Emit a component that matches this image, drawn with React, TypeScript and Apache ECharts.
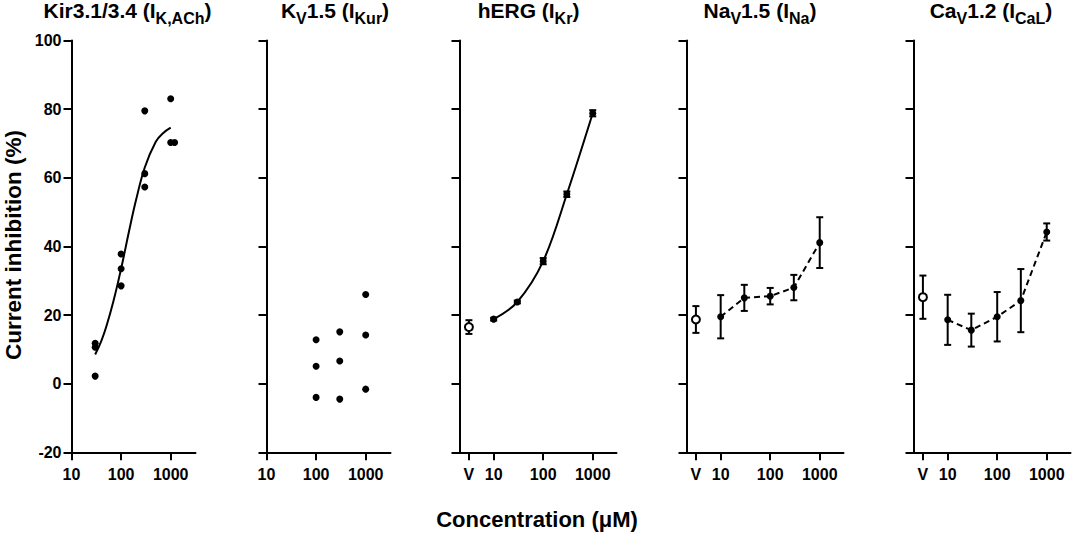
import React, { useEffect, useRef } from "react";
import * as echarts from "echarts";

const FONT = '"Liberation Sans", Arial, Helvetica, sans-serif';

// ---- data (concentrations in µM, values in % inhibition) ----
// Kir3.1/3.4 individual points
const KIR_CONC = [30, 30, 30, 100, 100, 100, 300, 300, 300, 1000, 1000, 1200];
const KIR_VAL = [11.8, 10.6, 2.2, 37.8, 33.5, 28.5, 79.5, 61.2, 57.3, 83.0, 70.3, 70.3];
// Kir3.1/3.4 fitted curve
const KIR_FIT_CONC = [30, 40, 50, 70, 100, 150, 200, 300, 500, 700, 1000];
const KIR_FIT_VAL = [8.5, 12.5, 16.5, 24, 33.5, 45.5, 53.5, 63, 70.5, 73, 74.6];

// Kv1.5 individual points
const KV_CONC = [100, 100, 100, 300, 300, 300, 1000, 1000, 1000];
const KV_VAL = [12.8, 5.1, -4.0, 15.1, 6.6, -4.5, 26.0, 14.2, -1.6];

// mean ± error for the three remaining channels
const CONC = [10, 30, 100, 300, 1000];
const HERG_MEAN = [18.8, 23.8, 35.7, 55.2, 78.8];
const HERG_ERR = [0.4, 0.4, 0.9, 0.8, 0.9];
const HERG_V = [16.5];
const HERG_V_ERR = [2.0];

const NAV_MEAN = [19.5, 25.0, 25.5, 28.0, 41.1];
const NAV_ERR = [6.3, 3.8, 2.4, 3.7, 7.4];
const NAV_V = [18.7];
const NAV_V_ERR = [3.9];

const CAV_MEAN = [18.6, 15.6, 19.5, 24.2, 44.2];
const CAV_ERR = [7.3, 4.8, 7.2, 9.2, 2.5];
const CAV_V = [25.2];
const CAV_V_ERR = [6.3];

// axis ticks
const X_TICKS = [10, 100, 1000];
const VEHICLE_POS = Math.sqrt(10); // "V" drawn half a decade below 10 µM
const Y_MIN = -20;
const Y_MAX = 100;
const Y_STEP = 20;

const TITLES = [
  "{m|Kir3.1/3.4 (I}{s|K,ACh}{m|)}",
  "{m|K}{s|V}{m|1.5 (I}{s|Kur}{m|)}",
  "{m|hERG (I}{s|Kr}{m|)}",
  "{m|Na}{s|V}{m|1.5 (I}{s|Na}{m|)}",
  "{m|Ca}{s|V}{m|1.2 (I}{s|CaL}{m|)}",
];

const lg = (c: number) => Math.log10(c);

export default function App() {
  const ref = useRef<HTMLDivElement>(null);

  useEffect(() => {
    if (!ref.current) return;
    const chart = echarts.init(ref.current, undefined, { renderer: "svg" });

    const panels = [
      { left: 71.5, width: 124, min: 1, max: 3.5, vehicle: false, titleX: 127.5 },
      { left: 266.5, width: 124, min: 1, max: 3.5, vehicle: false, titleX: 335 },
      { left: 459.5, width: 157, min: 0.31, max: 3.48, vehicle: true, titleX: 528.5 },
      { left: 686.5, width: 157, min: 0.31, max: 3.48, vehicle: true, titleX: 760 },
      { left: 913.5, width: 157, min: 0.31, max: 3.48, vehicle: true, titleX: 991 },
    ];

    const black = "#000";
    const gridTop = 40.5;
    const gridHeight = 411.8;

    const grid = panels.map((p) => ({
      left: p.left,
      top: gridTop,
      width: p.width,
      height: gridHeight,
      containLabel: false,
    }));

    const xAxis = panels.map((p, i) => {
      const ticks = (p.vehicle ? [VEHICLE_POS, ...X_TICKS] : X_TICKS).map(lg);
      return {
        type: "value",
        gridIndex: i,
        min: p.min,
        max: p.max,
        splitLine: { show: false },
        axisLine: { show: true, onZero: false, lineStyle: { color: black, width: 2 } },
        axisTick: {
          show: true,
          length: 8,
          customValues: ticks,
          lineStyle: { color: black, width: 2 },
        },
        axisLabel: {
          show: true,
          customValues: ticks,
          margin: 14,
          color: black,
          fontSize: 16,
          fontWeight: "bold",
          fontFamily: FONT,
          formatter: (v: number) =>
            Math.abs(v - lg(VEHICLE_POS)) < 1e-6 ? "V" : String(Math.round(Math.pow(10, v))),
        },
      };
    });

    const yAxis = panels.map((_p, i) => ({
      type: "value",
      gridIndex: i,
      min: Y_MIN,
      max: Y_MAX,
      interval: Y_STEP,
      splitLine: { show: false },
      axisLine: { show: true, onZero: false, lineStyle: { color: black, width: 2 } },
      axisTick: { show: true, length: 8, lineStyle: { color: black, width: 2 } },
      axisLabel: {
        show: i === 0,
        margin: 10,
        color: black,
        fontSize: 16,
        fontWeight: "bold",
        fontFamily: FONT,
      },
    }));

    const errRender = (_params: any, api: any) => {
      const x = api.value(0);
      const lo = api.coord([x, api.value(1)]);
      const hi = api.coord([x, api.value(2)]);
      const w = 3.5;
      const style = { stroke: black, lineWidth: 2, fill: "none" };
      return {
        type: "group",
        children: [
          { type: "line", shape: { x1: lo[0], y1: lo[1], x2: hi[0], y2: hi[1] }, style },
          { type: "line", shape: { x1: lo[0] - w, y1: lo[1], x2: lo[0] + w, y2: lo[1] }, style },
          { type: "line", shape: { x1: hi[0] - w, y1: hi[1], x2: hi[0] + w, y2: hi[1] }, style },
        ],
      };
    };

    const dot = { color: black, opacity: 1 };
    const series: any[] = [];

    // Panel 1
    series.push({
      type: "line",
      xAxisIndex: 0,
      yAxisIndex: 0,
      data: KIR_FIT_CONC.map((c, k) => [lg(c), KIR_FIT_VAL[k]]),
      smooth: 0.4,
      showSymbol: false,
      lineStyle: { color: black, width: 2 },
      z: 2,
    });
    series.push({
      type: "scatter",
      xAxisIndex: 0,
      yAxisIndex: 0,
      data: KIR_CONC.map((c, k) => [lg(c), KIR_VAL[k]]),
      symbol: "circle",
      symbolSize: 7,
      itemStyle: dot,
      z: 3,
    });

    // Panel 2
    series.push({
      type: "scatter",
      xAxisIndex: 1,
      yAxisIndex: 1,
      data: KV_CONC.map((c, k) => [lg(c), KV_VAL[k]]),
      symbol: "circle",
      symbolSize: 7,
      itemStyle: dot,
      z: 3,
    });

    const meanPanels = [
      { idx: 2, mean: HERG_MEAN, err: HERG_ERR, v: HERG_V, vErr: HERG_V_ERR, dashed: false },
      { idx: 3, mean: NAV_MEAN, err: NAV_ERR, v: NAV_V, vErr: NAV_V_ERR, dashed: true },
      { idx: 4, mean: CAV_MEAN, err: CAV_ERR, v: CAV_V, vErr: CAV_V_ERR, dashed: true },
    ];

    meanPanels.forEach((mp) => {
      series.push({
        type: "custom",
        xAxisIndex: mp.idx,
        yAxisIndex: mp.idx,
        renderItem: errRender,
        encode: { x: 0, y: [1, 2] },
        data: [
          ...CONC.map((c, k) => [lg(c), mp.mean[k] - mp.err[k], mp.mean[k] + mp.err[k]]),
          ...mp.v.map((m, k) => [lg(VEHICLE_POS), m - mp.vErr[k], m + mp.vErr[k]]),
        ],
        z: 1,
      });
      series.push({
        type: "line",
        xAxisIndex: mp.idx,
        yAxisIndex: mp.idx,
        data: CONC.map((c, k) => [lg(c), mp.mean[k]]),
        smooth: mp.dashed ? false : 0.35,
        symbol: "circle",
        symbolSize: 7,
        showSymbol: true,
        itemStyle: dot,
        lineStyle: { color: black, width: 2, type: mp.dashed ? [6, 4] : "solid" },
        z: 2,
      });
      series.push({
        type: "scatter",
        xAxisIndex: mp.idx,
        yAxisIndex: mp.idx,
        data: mp.v.map((m) => [lg(VEHICLE_POS), m]),
        symbol: "circle",
        symbolSize: 8,
        itemStyle: { color: "#fff", borderColor: black, borderWidth: 2, opacity: 1 },
        z: 4,
      });
    });

    const rich = {
      m: {
        fontSize: 21,
        fontWeight: "bold",
        fontFamily: FONT,
        fill: black,
        lineHeight: 24,
        verticalAlign: "top",
      },
      s: {
        fontSize: 16,
        fontWeight: "bold",
        fontFamily: FONT,
        fill: black,
        lineHeight: 16,
        verticalAlign: "top",
        padding: [10.5, 0, 0, 0],
      },
    };

    const graphic: any[] = panels.map((p, i) => ({
      type: "text",
      x: p.titleX,
      y: 0,
      silent: true,
      style: { text: TITLES[i], rich, align: "center", verticalAlign: "top", fill: black },
    }));
    graphic.push({
      type: "text",
      x: 13,
      y: 245,
      rotation: Math.PI / 2,
      silent: true,
      style: {
        text: "Current inhibition (%)",
        fontSize: 22.5,
        fontWeight: "bold",
        fontFamily: FONT,
        fill: black,
        align: "center",
        verticalAlign: "middle",
      },
    });
    graphic.push({
      type: "text",
      x: 537,
      y: 519,
      silent: true,
      style: {
        text: "Concentration (\u03bcM)",
        fontSize: 22,
        fontWeight: "bold",
        fontFamily: FONT,
        fill: black,
        align: "center",
        verticalAlign: "middle",
      },
    });

    chart.setOption({
      animation: false,
      backgroundColor: "#fff",
      grid,
      xAxis,
      yAxis,
      series,
      graphic,
    });

    return () => chart.dispose();
  }, []);

  return (
    <div
      ref={ref}
      style={{ position: "absolute", left: 0, top: 0, width: 1072, height: 534, background: "#fff" }}
    />
  );
}
